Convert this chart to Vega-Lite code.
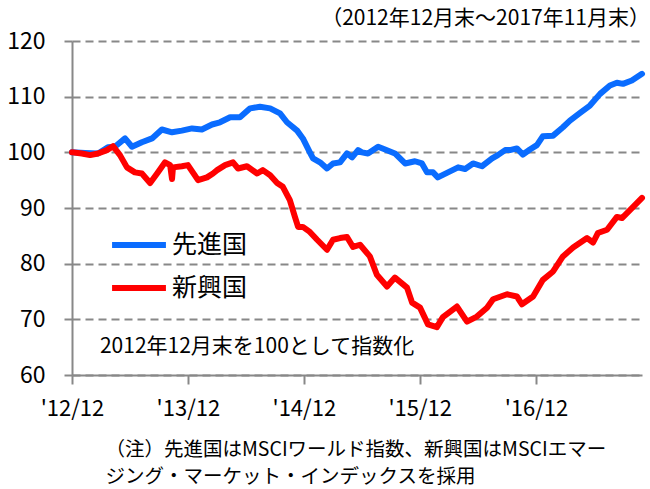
{
  "$schema": "https://vega.github.io/schema/vega-lite/v6.json",
  "width": 570,
  "height": 334,
  "autosize": {"type": "none"},
  "padding": {"left": 72, "top": 41, "right": 8, "bottom": 114},
  "background": "white",
  "config": {"font": "Noto Sans CJK JP", "view": {"stroke": null}},
  "title": {"text": "（2012年12月末～2017年11月末）", "anchor": "end", "frame": "group", "fontSize": 21, "fontWeight": "normal", "color": "black", "font": "Noto Sans CJK JP", "offset": 1, "dx": 8},
  "datasets": {
    "series": [
      {"date": "2012-12-31", "region": "先進国", "index": 100},
      {"date": "2013-02-10", "region": "先進国", "index": 99.9},
      {"date": "2013-03-23", "region": "先進国", "index": 99.8},
      {"date": "2013-04-23", "region": "先進国", "index": 100.9},
      {"date": "2013-05-15", "region": "先進国", "index": 101},
      {"date": "2013-06-16", "region": "先進国", "index": 102.5},
      {"date": "2013-07-08", "region": "先進国", "index": 101},
      {"date": "2013-08-08", "region": "先進国", "index": 101.8},
      {"date": "2013-09-09", "region": "先進国", "index": 102.5},
      {"date": "2013-10-10", "region": "先進国", "index": 104.1},
      {"date": "2013-11-11", "region": "先進国", "index": 103.6},
      {"date": "2013-12-12", "region": "先進国", "index": 103.9},
      {"date": "2014-01-13", "region": "先進国", "index": 104.3},
      {"date": "2014-02-13", "region": "先進国", "index": 104.1},
      {"date": "2014-03-17", "region": "先進国", "index": 105},
      {"date": "2014-04-11", "region": "先進国", "index": 105.4},
      {"date": "2014-05-13", "region": "先進国", "index": 106.3},
      {"date": "2014-06-13", "region": "先進国", "index": 106.3},
      {"date": "2014-07-15", "region": "先進国", "index": 107.9},
      {"date": "2014-08-15", "region": "先進国", "index": 108.2},
      {"date": "2014-09-16", "region": "先進国", "index": 107.9},
      {"date": "2014-10-17", "region": "先進国", "index": 107},
      {"date": "2014-11-08", "region": "先進国", "index": 105.4},
      {"date": "2014-12-10", "region": "先進国", "index": 103.9},
      {"date": "2014-12-28", "region": "先進国", "index": 102.5},
      {"date": "2015-01-19", "region": "先進国", "index": 100},
      {"date": "2015-01-29", "region": "先進国", "index": 98.9},
      {"date": "2015-02-20", "region": "先進国", "index": 98.2},
      {"date": "2015-03-14", "region": "先進国", "index": 97.1},
      {"date": "2015-04-02", "region": "先進国", "index": 98},
      {"date": "2015-04-24", "region": "先進国", "index": 98.2},
      {"date": "2015-05-16", "region": "先進国", "index": 99.8},
      {"date": "2015-06-01", "region": "先進国", "index": 99.1},
      {"date": "2015-06-20", "region": "先進国", "index": 100.4},
      {"date": "2015-07-02", "region": "先進国", "index": 100},
      {"date": "2015-07-21", "region": "先進国", "index": 99.8},
      {"date": "2015-08-22", "region": "先進国", "index": 101},
      {"date": "2015-09-13", "region": "先進国", "index": 100.5},
      {"date": "2015-10-14", "region": "先進国", "index": 99.8},
      {"date": "2015-11-15", "region": "先進国", "index": 98},
      {"date": "2015-12-16", "region": "先進国", "index": 98.4},
      {"date": "2016-01-07", "region": "先進国", "index": 98},
      {"date": "2016-01-23", "region": "先進国", "index": 96.4},
      {"date": "2016-02-11", "region": "先進国", "index": 96.4},
      {"date": "2016-02-26", "region": "先進国", "index": 95.5},
      {"date": "2016-03-29", "region": "先進国", "index": 96.4},
      {"date": "2016-04-30", "region": "先進国", "index": 97.3},
      {"date": "2016-05-22", "region": "先進国", "index": 97},
      {"date": "2016-06-16", "region": "先進国", "index": 98},
      {"date": "2016-07-14", "region": "先進国", "index": 97.5},
      {"date": "2016-08-15", "region": "先進国", "index": 98.9},
      {"date": "2016-09-02", "region": "先進国", "index": 99.5},
      {"date": "2016-09-25", "region": "先進国", "index": 100.4},
      {"date": "2016-10-10", "region": "先進国", "index": 100.4},
      {"date": "2016-11-01", "region": "先進国", "index": 100.7},
      {"date": "2016-11-20", "region": "先進国", "index": 99.6},
      {"date": "2016-12-12", "region": "先進国", "index": 100.5},
      {"date": "2017-01-03", "region": "先進国", "index": 101.3},
      {"date": "2017-01-22", "region": "先進国", "index": 102.9},
      {"date": "2017-02-23", "region": "先進国", "index": 103},
      {"date": "2017-03-26", "region": "先進国", "index": 104.5},
      {"date": "2017-04-17", "region": "先進国", "index": 105.7},
      {"date": "2017-05-19", "region": "先進国", "index": 107.1},
      {"date": "2017-06-19", "region": "先進国", "index": 108.4},
      {"date": "2017-07-21", "region": "先進国", "index": 110.5},
      {"date": "2017-08-21", "region": "先進国", "index": 112},
      {"date": "2017-09-12", "region": "先進国", "index": 112.5},
      {"date": "2017-10-01", "region": "先進国", "index": 112.3},
      {"date": "2017-10-29", "region": "先進国", "index": 112.9},
      {"date": "2017-11-30", "region": "先進国", "index": 114.1},
      {"date": "2012-12-31", "region": "新興国", "index": 100},
      {"date": "2013-01-31", "region": "新興国", "index": 99.8},
      {"date": "2013-02-26", "region": "新興国", "index": 99.5},
      {"date": "2013-03-23", "region": "新興国", "index": 99.8},
      {"date": "2013-04-20", "region": "新興国", "index": 100.4},
      {"date": "2013-05-09", "region": "新興国", "index": 101.1},
      {"date": "2013-05-31", "region": "新興国", "index": 99.5},
      {"date": "2013-06-22", "region": "新興国", "index": 97.3},
      {"date": "2013-07-17", "region": "新興国", "index": 96.4},
      {"date": "2013-08-08", "region": "新興国", "index": 96.2},
      {"date": "2013-09-03", "region": "新興国", "index": 94.5},
      {"date": "2013-09-25", "region": "新興国", "index": 96.2},
      {"date": "2013-10-20", "region": "新興国", "index": 98.2},
      {"date": "2013-11-05", "region": "新興国", "index": 97.7},
      {"date": "2013-11-11", "region": "新興国", "index": 95.2},
      {"date": "2013-11-14", "region": "新興国", "index": 97.3},
      {"date": "2013-12-12", "region": "新興国", "index": 97.5},
      {"date": "2013-12-31", "region": "新興国", "index": 97.7},
      {"date": "2014-02-01", "region": "新興国", "index": 95},
      {"date": "2014-03-01", "region": "新興国", "index": 95.5},
      {"date": "2014-03-20", "region": "新興国", "index": 96.2},
      {"date": "2014-04-02", "region": "新興国", "index": 96.8},
      {"date": "2014-04-27", "region": "新興国", "index": 97.7},
      {"date": "2014-05-22", "region": "新興国", "index": 98.2},
      {"date": "2014-06-07", "region": "新興国", "index": 97.1},
      {"date": "2014-07-05", "region": "新興国", "index": 97.5},
      {"date": "2014-08-06", "region": "新興国", "index": 96.2},
      {"date": "2014-08-24", "region": "新興国", "index": 96.8},
      {"date": "2014-09-16", "region": "新興国", "index": 95.9},
      {"date": "2014-10-08", "region": "新興国", "index": 94.5},
      {"date": "2014-10-26", "region": "新興国", "index": 93.8},
      {"date": "2014-11-17", "region": "新興国", "index": 91.4},
      {"date": "2014-12-03", "region": "新興国", "index": 88.4},
      {"date": "2014-12-13", "region": "新興国", "index": 86.6},
      {"date": "2014-12-28", "region": "新興国", "index": 86.6},
      {"date": "2015-01-19", "region": "新興国", "index": 85.7},
      {"date": "2015-02-11", "region": "新興国", "index": 84.3},
      {"date": "2015-03-14", "region": "新興国", "index": 82.5},
      {"date": "2015-04-02", "region": "新興国", "index": 84.3},
      {"date": "2015-04-24", "region": "新興国", "index": 84.6},
      {"date": "2015-05-16", "region": "新興国", "index": 84.8},
      {"date": "2015-06-04", "region": "新興国", "index": 83},
      {"date": "2015-06-26", "region": "新興国", "index": 83.4},
      {"date": "2015-07-27", "region": "新興国", "index": 81.3},
      {"date": "2015-08-18", "region": "新興国", "index": 78},
      {"date": "2015-09-19", "region": "新興国", "index": 75.9},
      {"date": "2015-10-14", "region": "新興国", "index": 77.5},
      {"date": "2015-11-21", "region": "新興国", "index": 75.7},
      {"date": "2015-12-07", "region": "新興国", "index": 73},
      {"date": "2016-01-01", "region": "新興国", "index": 72.1},
      {"date": "2016-01-26", "region": "新興国", "index": 69.1},
      {"date": "2016-02-23", "region": "新興国", "index": 68.6},
      {"date": "2016-03-13", "region": "新興国", "index": 70.4},
      {"date": "2016-04-26", "region": "新興国", "index": 72.3},
      {"date": "2016-05-28", "region": "新興国", "index": 69.6},
      {"date": "2016-06-28", "region": "新興国", "index": 70.5},
      {"date": "2016-07-30", "region": "新興国", "index": 72.1},
      {"date": "2016-08-18", "region": "新興国", "index": 73.6},
      {"date": "2016-10-01", "region": "新興国", "index": 74.5},
      {"date": "2016-11-01", "region": "新興国", "index": 74.1},
      {"date": "2016-11-17", "region": "新興国", "index": 72.7},
      {"date": "2016-12-22", "region": "新興国", "index": 74.1},
      {"date": "2017-01-22", "region": "新興国", "index": 77.1},
      {"date": "2017-02-23", "region": "新興国", "index": 78.6},
      {"date": "2017-03-26", "region": "新興国", "index": 81.3},
      {"date": "2017-04-27", "region": "新興国", "index": 82.9},
      {"date": "2017-06-10", "region": "新興国", "index": 84.6},
      {"date": "2017-06-29", "region": "新興国", "index": 83.8},
      {"date": "2017-07-14", "region": "新興国", "index": 85.5},
      {"date": "2017-08-12", "region": "新興国", "index": 86.1},
      {"date": "2017-09-12", "region": "新興国", "index": 88.4},
      {"date": "2017-09-28", "region": "新興国", "index": 88.2},
      {"date": "2017-10-23", "region": "新興国", "index": 89.6},
      {"date": "2017-11-30", "region": "新興国", "index": 91.8}
    ]
  },
  "layer": [
    {
      "data": {"name": "series"},
      "mark": {"type": "line", "strokeWidth": 6, "strokeCap": "round", "strokeJoin": "round"},
      "encoding": {
        "x": {
          "field": "date", "type": "temporal",
          "scale": {"type": "utc", "domain": [{"year": 2012, "month": 12, "date": 31, "utc": true}, {"year": 2017, "month": 11, "date": 30, "utc": true}]},
          "axis": {
            "values": [
              {"year": 2012, "month": 12, "date": 31, "utc": true},
              {"year": 2013, "month": 12, "date": 31, "utc": true},
              {"year": 2014, "month": 12, "date": 31, "utc": true},
              {"year": 2015, "month": 12, "date": 31, "utc": true},
              {"year": 2016, "month": 12, "date": 31, "utc": true}
            ],
            "labelExpr": "utcFormat(datum.value, \"'%y/%m\")",
            "labelOverlap": false,
            "labelFlush": false,
            "grid": false,
            "domainColor": "#888888", "domainWidth": 2,
            "tickColor": "#888888", "tickWidth": 2, "tickSize": 9,
            "labelFontSize": 22, "labelColor": "black", "labelPadding": 14, "labelFont": "Noto Sans CJK JP",
            "title": ["（注）先進国はMSCIワールド指数、新興国はMSCIエマー", "ジング・マーケット・インデックスを採用"],
            "titleFontSize": 19.5, "titleFontWeight": "normal", "titleColor": "black", "titleFont": "Noto Sans CJK JP",
            "titleAnchor": "start", "titleAlign": "left", "titleBaseline": "top",
            "titleX": 33, "titleY": 65, "titleLineHeight": 27
          }
        },
        "y": {
          "field": "index", "type": "quantitative",
          "scale": {"domain": [60, 120], "zero": false, "nice": false},
          "axis": {
            "values": [60, 70, 80, 90, 100, 110, 120],
            "title": null,
            "grid": true, "gridDash": [8, 5], "gridColor": "#888888", "gridWidth": 2,
            "domainColor": "#888888", "domainWidth": 2,
            "tickColor": "#888888", "tickWidth": 2, "tickSize": 8,
            "labelFontSize": 23, "labelColor": "black", "labelPadding": 19, "labelFont": "Noto Sans CJK JP"
          }
        },
        "color": {
          "field": "region", "type": "nominal",
          "scale": {"domain": ["先進国", "新興国"], "range": ["#0a6cff", "#ff0000"]},
          "legend": {
            "orient": "none", "legendX": 37, "legendY": 174, "title": null, "padding": 0,
            "symbolType": "stroke", "symbolStrokeWidth": 6, "symbolSize": 2900,
            "labelFontSize": 25, "labelColor": "black", "labelFont": "Noto Sans CJK JP",
            "labelOffset": 3, "rowPadding": -4
          }
        }
      }
    },
    {
      "data": {"values": [{}]},
      "mark": {"type": "text", "text": "2012年12月末を100として指数化", "align": "left", "baseline": "middle", "fontSize": 21, "color": "black", "font": "Noto Sans CJK JP"},
      "encoding": {
        "x": {"datum": {"year": 2013, "month": 3, "date": 29, "utc": true}, "type": "temporal"},
        "y": {"datum": 65, "type": "quantitative"}
      }
    }
  ]
}
